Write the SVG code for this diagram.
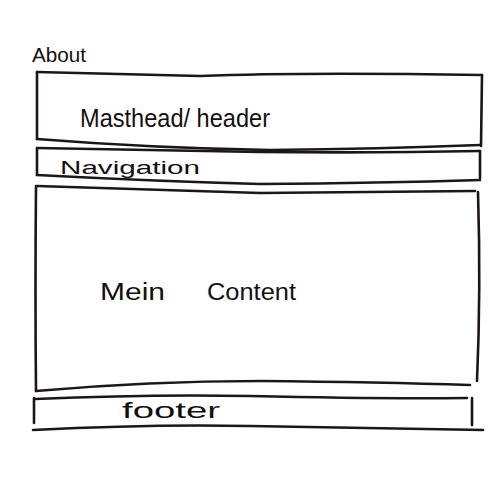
<svg xmlns="http://www.w3.org/2000/svg" width="500" height="500" viewBox="0 0 500 500">
  <style>
    .ink { fill: none; stroke: #1c1616; stroke-width: 2.6; stroke-linecap: round; stroke-linejoin: round; }
    .lbl { font-family: "Liberation Sans", "DejaVu Sans", sans-serif; fill: #141010; }
  </style>
  <rect width="500" height="500" fill="#ffffff"/>

  <!-- page title -->
  <g id="title">
    <text class="lbl" x="32" y="62" font-size="20" textLength="54" lengthAdjust="spacingAndGlyphs">About</text>
  </g>

  <!-- masthead / header block -->
  <g id="header">
    <path class="ink" d="M37 72 Q120 74 200 76 Q300 72 482 75"/>
    <path class="ink" d="M37 72 L37 139"/>
    <path class="ink" d="M482 75 L481 146"/>
    <path class="ink" d="M37 139 Q150 148 270 150 Q380 149 480 145"/>
    <text class="lbl" x="80" y="127" font-size="26" textLength="190" lengthAdjust="spacingAndGlyphs">Masthead/ header</text>
  </g>

  <!-- navigation bar -->
  <g id="navigation">
    <path class="ink" d="M37 148 Q150 150 260 152 Q380 153 480 151"/>
    <path class="ink" d="M37 148 L37 175"/>
    <path class="ink" d="M480 151 L480 178"/>
    <path class="ink" d="M37 175 Q150 181 260 184 Q380 183 480 180"/>
    <text class="lbl" x="60" y="174" font-size="18" textLength="140" lengthAdjust="spacingAndGlyphs">Navigation</text>
  </g>

  <!-- main content area -->
  <g id="content">
    <path class="ink" d="M37 186 Q150 190 260 193 Q380 192 475 191"/>
    <path class="ink" d="M36 186 Q35 290 36 391"/>
    <path class="ink" d="M478 192 Q481 290 477 381"/>
    <path class="ink" d="M36 391 Q150 381 260 381 Q380 382 470 385"/>
    <text class="lbl" x="100" y="300" font-size="23" textLength="65" lengthAdjust="spacingAndGlyphs">Mein</text>
    <text class="lbl" x="207" y="300" font-size="23" textLength="89" lengthAdjust="spacingAndGlyphs">Content</text>
  </g>

  <!-- footer -->
  <g id="footer">
    <path class="ink" d="M35 399 Q150 394 250 396 Q380 399 467 398"/>
    <path class="ink" d="M34 398 L34 423"/>
    <path class="ink" d="M472 398 L472 425"/>
    <path class="ink" d="M33 430 Q150 424 250 426 Q380 428 483 430"/>
    <text class="lbl" x="122" y="418" font-size="22" textLength="98" lengthAdjust="spacingAndGlyphs">footer</text>
  </g>
</svg>
